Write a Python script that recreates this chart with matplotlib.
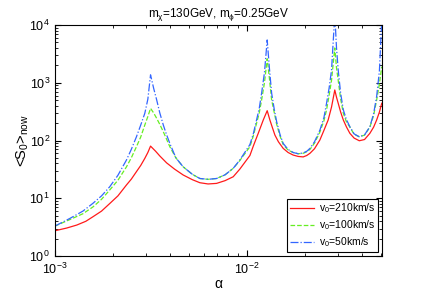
import matplotlib
matplotlib.use("Agg")
import matplotlib.pyplot as plt

# values
alpha_red = [1.0e-3, 1.15e-3, 1.30e-3, 1.45e-3, 1.58e-3, 1.75e-3, 1.93e-3, 2.13e-3,
             2.36e-3, 2.5e-3, 2.66e-3, 2.8e-3, 2.94e-3, 3.05e-3, 3.15e-3,
             3.35e-3, 3.52e-3, 3.82e-3, 4.2e-3, 4.66e-3, 5.2e-3, 5.69e-3, 6.28e-3,
             6.95e-3, 7.7e-3, 8.49e-3, 9.19e-3, 1.037e-2, 1.08e-2, 1.146e-2, 1.217e-2,
             1.276e-2, 1.318e-2, 1.36e-2, 1.40e-2, 1.46e-2, 1.546e-2, 1.64e-2, 1.742e-2,
             1.85e-2, 1.965e-2, 2.05e-2, 2.13e-2, 2.25e-2, 2.40e-2, 2.52e-2, 2.65e-2,
             2.76e-2, 2.87e-2, 2.93e-2, 2.99e-2, 3.08e-2, 3.18e-2, 3.30e-2, 3.44e-2,
             3.62e-2, 3.85e-2, 4.1e-2, 4.37e-2, 4.57e-2, 4.74e-2, 4.9e-2, 5.04e-2]
s_red = [2.74, 3.05, 3.44, 4.0, 4.8, 6.0, 8.1, 11,
         17, 21.4, 28.9, 37, 49, 62, 80,
         65, 54, 41, 32, 25.3, 21, 18.6, 17.7,
         18.1, 20.2, 23.6, 32, 55, 80, 133, 226,
         328, 226, 165, 124, 95, 73, 62, 56,
         53, 52, 55, 60, 72, 102, 150, 226,
         380, 749, 560, 441, 310, 226, 172, 133,
         110, 99, 104, 133, 170, 226, 310, 441]

alpha_gb = [1.0e-3, 1.2e-3, 1.4e-3, 1.58e-3, 1.75e-3, 1.93e-3, 2.13e-3, 2.36e-3,
            2.5e-3, 2.66e-3, 2.8e-3, 2.94e-3, 3.05e-3, 3.15e-3, 3.27e-3, 3.39e-3,
            3.52e-3, 3.67e-3, 3.82e-3, 3.97e-3, 4.27e-3, 4.66e-3, 5.2e-3, 5.69e-3,
            6.28e-3, 6.95e-3, 7.7e-3, 8.49e-3, 9.19e-3, 1.037e-2, 1.08e-2, 1.123e-2,
            1.16e-2, 1.193e-2, 1.235e-2, 1.276e-2, 1.31e-2, 1.346e-2, 1.39e-2, 1.43e-2,
            1.49e-2, 1.546e-2, 1.64e-2, 1.742e-2, 1.85e-2, 1.965e-2, 2.05e-2, 2.13e-2,
            2.25e-2, 2.40e-2, 2.52e-2, 2.60e-2, 2.68e-2, 2.76e-2, 2.87e-2, 2.93e-2,
            2.99e-2, 3.08e-2, 3.18e-2, 3.30e-2, 3.44e-2, 3.62e-2, 3.85e-2, 4.1e-2,
            4.37e-2, 4.57e-2, 4.74e-2, 4.9e-2, 5.04e-2]
s_green = [3.3, 4.3, 5.4, 7.1, 9.6, 13.9, 20.5, 35,
           50, 78, 115, 185, 260, 360, 300, 242,
           190, 142, 105, 78, 50, 35, 26, 22,
           21.3, 22, 25.5, 33, 45, 78, 120, 198,
           300, 500, 1000, 2600, 1200, 500, 300, 190,
           118, 85, 68, 62, 59, 60, 64, 70,
           90, 140, 220, 338, 600, 1100, 4000, 1800,
           1100, 520, 295, 210, 170, 128, 116, 124,
           170, 270, 500, 950, 1900]
s_blue = [3.3, 4.5, 6.0, 8.2, 11, 15.8, 25, 46,
          70, 116, 185, 295, 520, 1370, 800, 505,
          300, 186, 125, 89, 50, 35, 26, 22,
          21.3, 22, 25.5, 33, 46, 85, 130, 226,
          360, 657, 1500, 5500, 1800, 657, 340, 210,
          125, 89, 70, 62, 59, 61, 65, 73,
          95, 151, 250, 441, 800, 1650, 15000, 4000,
          1650, 650, 338, 230, 173, 130, 116, 125,
          173, 290, 575, 1600, 12000]

labels = ["v$_0$=210km/s", "v$_0$=100km/s", "v$_0$=50km/s"]

plt.rcParams["font.family"] = ["Liberation Sans", "DejaVu Sans"]
plt.rcParams["mathtext.default"] = "regular"

fig = plt.figure(figsize=(4.22, 2.90), dpi=100)
ax = fig.add_axes([0.130, 0.117, 0.775, 0.797])

ax.plot(alpha_red, s_red, color="#ff1a1a", lw=0.9, ls="-", label=labels[0])
ax.plot(alpha_gb, s_green, color="#66ee22", lw=0.9, ls="--", label=labels[1])
ax.plot(alpha_gb, s_blue, color="#3366ff", lw=0.9, ls="-.", label=labels[2])

ax.set_xscale("log")
ax.set_yscale("log")
ax.set_xlim(1e-3, 5.05e-2)
ax.set_ylim(1, 1e4)

ax.tick_params(which="both", direction="in", top=True, right=True, labelsize=9)
ax.tick_params(which="major", length=4)
ax.tick_params(which="minor", length=2)
ax.tick_params(axis="x", which="both", pad=4)

ax.set_title("m$_\\chi$=130GeV, m$_\\phi$=0.25GeV", fontsize=8.5)
ax.set_xlabel("α", fontsize=10, labelpad=0)
ax.set_ylabel("<S$_0$>$_{now}$", fontsize=10.5, labelpad=-1)

leg = ax.legend(loc="lower right", fontsize=7.5, fancybox=False, edgecolor="black",
                framealpha=1, handlelength=2.3, handletextpad=0.4,
                borderaxespad=0.35, labelspacing=0.3, borderpad=0.3)
leg.get_frame().set_linewidth(0.8)

fig.savefig("out.png", dpi=100)
